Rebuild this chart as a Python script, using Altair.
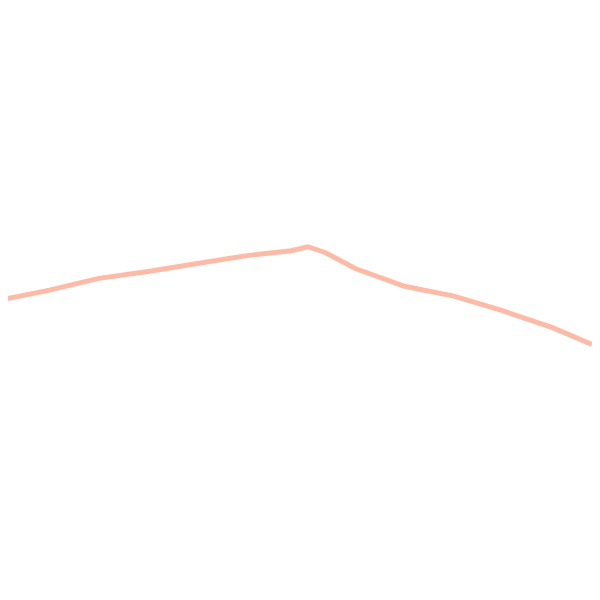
import altair as alt
import pandas as pd

xs = [0, 50, 100, 150, 200, 250, 295, 312, 330, 360, 410, 460, 510, 560, 600]
ys = [300, 290, 278, 271, 263, 255, 250, 246, 252, 268, 286, 296, 311, 328, 345]

df = pd.DataFrame({"x": xs, "v": [600 - y for y in ys]})

chart = alt.Chart(df).mark_line(
    color="#fb9e80", opacity=0.7, strokeWidth=5, clip=True
).encode(
    x=alt.X("x:Q", scale=alt.Scale(domain=[8, 600], nice=False, zero=False), axis=None),
    y=alt.Y("v:Q", scale=alt.Scale(domain=[0, 592], nice=False), axis=None),
).properties(width=592, height=592, padding=0).configure_view(stroke=None)

chart.save("out.html", embed_options={"renderer": "svg", "actions": False})
